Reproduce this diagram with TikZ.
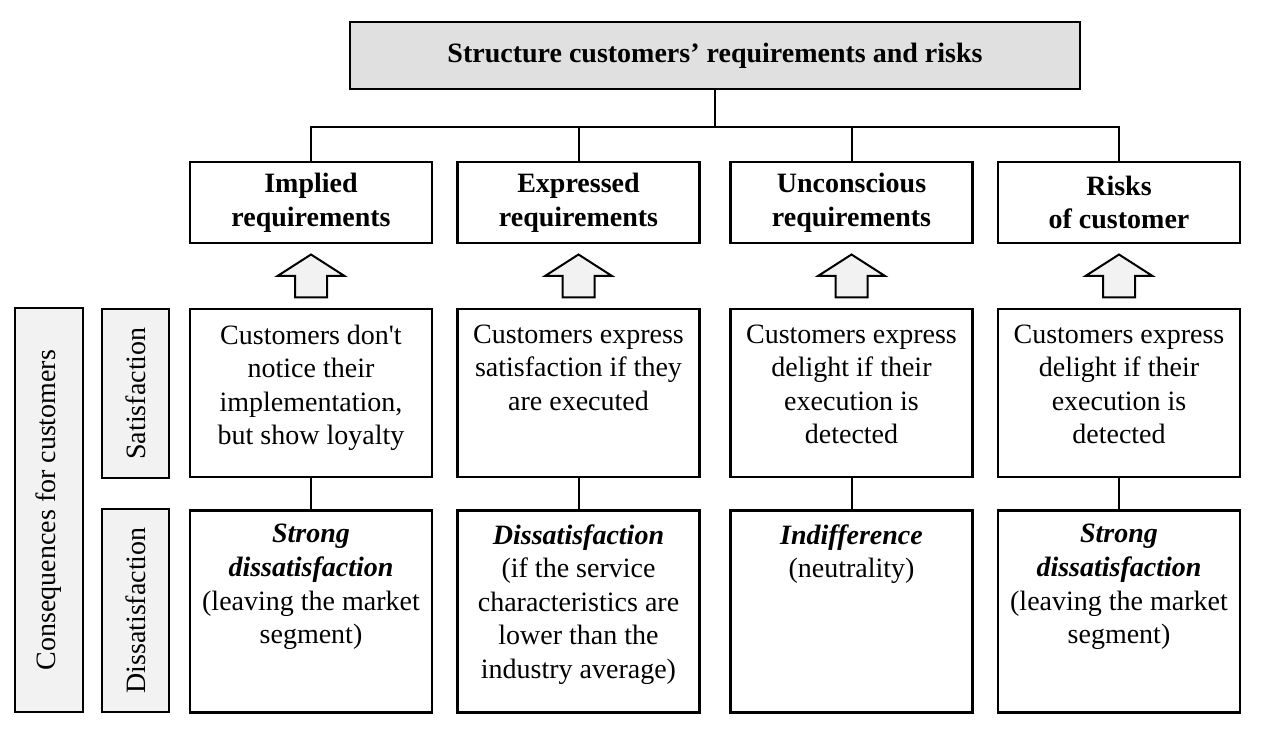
\documentclass[tikz,border=0pt]{standalone}
\usepackage{fontspec}
\setmainfont{Liberation Serif}
\usepackage{tikz}
\usetikzlibrary{positioning,calc}
\usepackage{xcolor}
\definecolor{titlegray}{HTML}{E0E0E0}
\definecolor{sidegray}{HTML}{F2F2F2}
\newcommand{\cellfont}{\fontsize{14}{16.8}\selectfont}
\tikzset{
  cell/.style     = {draw, line width=1.2pt, minimum width=121pt, align=center},
  headbox/.style  = {cell, minimum height=40.5pt, font=\cellfont\bfseries},
  satbox/.style   = {cell, minimum height=84pt},
  disbox/.style   = {cell, minimum height=101pt},
  sidebox/.style  = {draw, line width=1.2pt, fill=sidegray, rotate=90},
  celltext/.style = {anchor=north, align=center, inner sep=0pt},
  link/.style     = {line width=1pt},
  uparrow/.style  = {draw, line width=1pt, fill=sidegray, line join=miter},
}
\newcommand{\liftarrow}[2]{%
  \coordinate (m) at ($(#1.north)!0.5!(#2.south)$);
  \draw[uparrow] ($(m)+(-8pt,-10.75pt)$) -- ($(m)+(8pt,-10.75pt)$) -- ($(m)+(8pt,0)$)
    -- ($(m)+(16.75pt,0)$) -- ($(m)+(0,10.75pt)$) -- ($(m)+(-16.75pt,0)$)
    -- ($(m)+(-8pt,0)$) -- cycle;}
\newcommand{\emtext}[1]{\textbf{\textit{#1}}}

\begin{document}
\begin{tikzpicture}[x=0.5pt,y=-0.5pt,font=\cellfont]
\useasboundingbox (0,0) rectangle (1264,737);
% ---- title and bus ----
\node[draw, line width=1.2pt, fill=titlegray, minimum width=365pt, minimum height=33.5pt,
      font=\cellfont\bfseries] (title) at (715,55.5) {Structure customers’ requirements and risks};
\coordinate (bus) at (715,127);
\draw[link] (title) -- (bus);
% ---- requirement groups ----
\node[headbox] (imp)  at (311,202.5)  {Implied\\requirements};
\node[headbox] (exp)  at (578.5,202.5) {Expressed\\requirements};
\node[headbox] (unc)  at (851.5,202.5) {Unconscious\\requirements};
\node[headbox] (risk) at (1119,202.5) {Risks\\of customer};
\foreach \n in {imp,exp,unc,risk} \draw[link] (\n.north) |- (bus);
% ---- satisfaction row ----
\node[satbox] (sat1) at (311,393) {};
\node[satbox] (sat2) at (578.5,393) {};
\node[satbox] (sat3) at (851.5,393) {};
\node[satbox] (sat4) at (1119,393) {};
\node[celltext] (sat1t) at ($(sat1.north)+(0,-8.2pt)$)
  {Customers don\textquotesingle t\\notice their\\implementation,\\but show loyalty};
\node[celltext] (sat2t) at ($(sat2.north)+(0,-8.2pt)$)
  {Customers express\\satisfaction if they\\are executed};
\node[celltext] (sat3t) at ($(sat3.north)+(0,-8.2pt)$)
  {Customers express\\delight if their\\execution is\\detected};
\node[celltext] (sat4t) at ($(sat4.north)+(0,-8.2pt)$)
  {Customers express\\delight if their\\execution is\\detected};
% ---- dissatisfaction row ----
\node[disbox] (dis1) at (311,611.5) {};
\node[disbox] (dis2) at (578.5,611.5) {};
\node[disbox] (dis3) at (851.5,611.5) {};
\node[disbox] (dis4) at (1119,611.5) {};
\node[celltext] (dis1t) at ($(dis1.north)+(0,-7.3pt)$)
  {\emtext{Strong}\\\emtext{dissatisfaction}\\(leaving the market\\segment)};
\node[celltext] (dis2t) at ($(dis2.north)+(0,-7.3pt)$)
  {\emtext{Dissatisfaction}\\(if the service\\characteristics are\\lower than the\\industry average)};
\node[celltext] (dis3t) at ($(dis3.north)+(0,-7.3pt)$)
  {\emtext{Indifference}\\(neutrality)};
\node[celltext] (dis4t) at ($(dis4.north)+(0,-7.3pt)$)
  {\emtext{Strong}\\\emtext{dissatisfaction}\\(leaving the market\\segment)};
\foreach \i in {1,...,4} \draw[link] (sat\i) -- (dis\i);
% block arrows, consequence -> requirement
\liftarrow{sat1}{imp}
\liftarrow{sat2}{exp}
\liftarrow{sat3}{unc}
\liftarrow{sat4}{risk}
% ---- side labels ----
\node[sidebox, minimum width=202pt, minimum height=34pt] (cons) at (49,510)
  {Consequences for customers};
\node[sidebox, minimum width=84.5pt, minimum height=33.5pt] (sside) at (135.5,393.5)
  {Satisfaction};
\node[sidebox, minimum width=101.5pt, minimum height=33.5pt] (dside) at (135.5,610.5)
  {Dissatisfaction};
\end{tikzpicture}
\end{document}
